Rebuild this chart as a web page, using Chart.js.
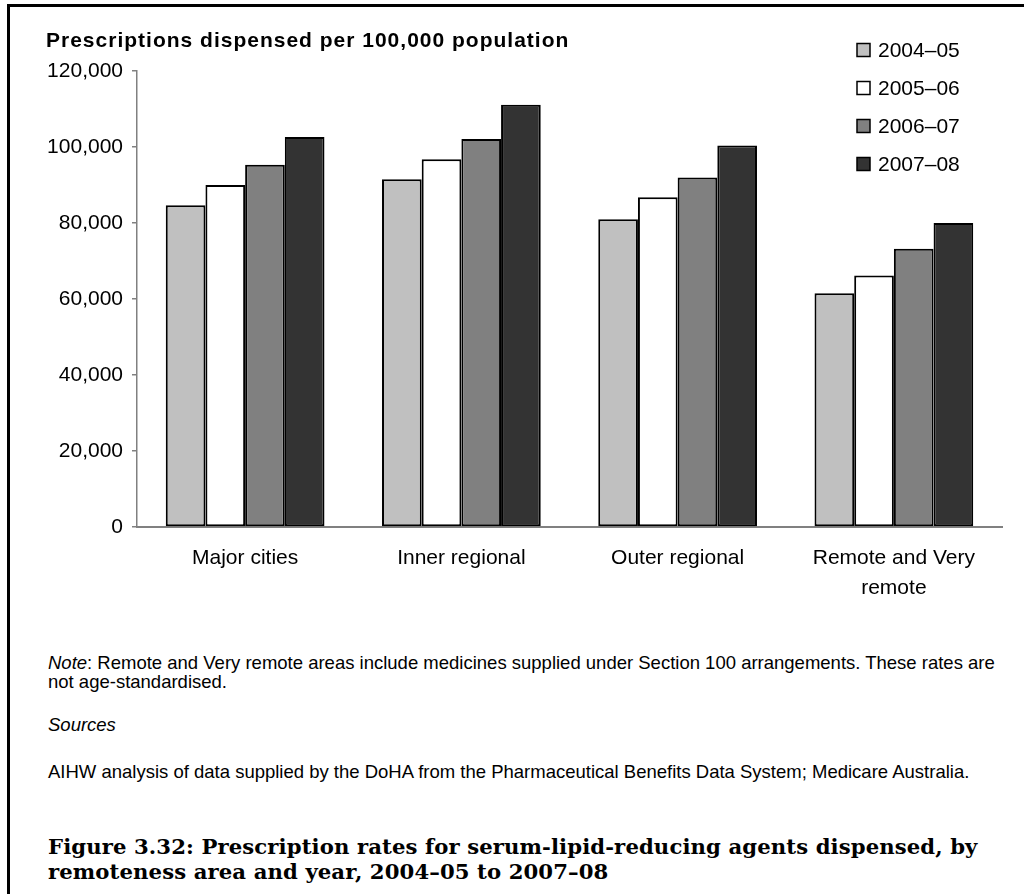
<!DOCTYPE html>
<html>
<head>
<meta charset="utf-8">
<script src="https://cdn.jsdelivr.net/npm/chart.js@4"></script>
<style>
  html, body { margin: 0; padding: 0; background: #fff; overflow: hidden; }
  body { width: 1024px; height: 894px; position: relative; font-family: "Liberation Sans", Arial, sans-serif; color: #000; }
  #frame { position: absolute; left: 7px; top: 4px; width: 1100px; height: 1000px; border: 3px solid #000; }
  #chart { position: absolute; left: 0; top: 0; }
  .ytitle { position: absolute; left: 46px; top: 28px; font-weight: bold; font-size: 21px; letter-spacing: 1px; line-height: 24px; white-space: nowrap; }
  .txt { position: absolute; left: 48px; font-size: 18.5px; line-height: 19px; white-space: nowrap; }
  .cap { position: absolute; left: 48px; top: 834px; font-family: "DejaVu Serif", serif; font-weight: bold; font-size: 21.2px; letter-spacing: 0.1px; line-height: 25px; white-space: nowrap; }
</style>
</head>
<body>
<div id="frame"></div>
<canvas id="chart" width="1024" height="640"></canvas>
<div class="ytitle">Prescriptions dispensed per 100,000 population</div>
<div class="txt" style="top:653px"><i>Note</i>: Remote and Very remote areas include medicines supplied under Section 100 arrangements. These rates are</div>
<div class="txt" style="top:672px">not age-standardised.</div>
<div class="txt" style="top:715px"><i>Sources</i></div>
<div class="txt" style="top:762px">AIHW analysis of data supplied by the DoHA from the Pharmaceutical Benefits Data System; Medicare Australia.</div>
<div class="cap">Figure 3.32: Prescription rates for serum-lipid-reducing agents dispensed, by<br>remoteness area and year, 2004–05 to 2007–08</div>

<script>
  // ---------------- data ----------------
  const categories = ["Major cities", "Inner regional", "Outer regional", ["Remote and Very", "remote"]];
  const years = ["2004–05", "2005–06", "2006–07", "2007–08"];
  const rates0405 = [84700, 91500, 81000, 61500];
  const rates0506 = [90000, 96800, 86800, 66200];
  const rates0607 = [95300, 102100, 92000, 73200];
  const rates0708 = [102600, 111100, 100400, 80000];
  const yTicks = [0, 20000, 40000, 60000, 80000, 100000, 120000];

  const fills = ["#c0c0c0", "#ffffff", "#808080", "#333333"];
  const FONT = "'Liberation Sans', Arial, sans-serif";

  // legend drawn over the plot, top right
  const boxLegend = {
    id: "boxLegend",
    afterDraw(chart) {
      const ctx = chart.ctx;
      ctx.save();
      ctx.font = "21px " + FONT;
      ctx.textBaseline = "middle";
      chart.data.datasets.forEach((ds, i) => {
        const y = 50 + i * 38;
        ctx.fillStyle = ds.backgroundColor;
        ctx.fillRect(857, y - 6.5, 13, 13);
        ctx.strokeStyle = "#000";
        ctx.lineWidth = 1.5;
        ctx.strokeRect(857, y - 6.5, 13, 13);
        ctx.fillStyle = "#000";
        ctx.fillText(ds.label, 878, y + 1);
      });
      ctx.restore();
    }
  };

  const series = [rates0405, rates0506, rates0607, rates0708];

  new Chart(document.getElementById("chart"), {
    type: "bar",
    data: {
      labels: categories,
      datasets: series.map((vals, i) => ({
        label: years[i],
        data: vals,
        backgroundColor: fills[i],
        borderColor: "#000",
        borderWidth: 2,
        borderSkipped: false,
        categoryPercentage: 0.734,
        barPercentage: 1.0
      }))
    },
    options: {
      responsive: false,
      animation: false,
      devicePixelRatio: 1,
      layout: { padding: { top: 71, right: 22, left: 0, bottom: 0 } },
      plugins: { legend: { display: false }, tooltip: { enabled: false }, title: { display: false } },
      scales: {
        x: {
          grid: { display: false, drawTicks: false },
          border: { color: "#808080", width: 2 },
          ticks: { color: "#000", font: { family: FONT, size: 21, lineHeight: 1.43 }, padding: 16, maxRotation: 0, autoSkip: false },
          afterFit(scale) { scale.height = 113; }
        },
        y: {
          min: 0, max: 120000,
          afterBuildTicks(scale) { scale.ticks = yTicks.map(v => ({ value: v })); },
          grid: { display: true, drawOnChartArea: false, drawTicks: true, tickLength: 5, color: "#808080", lineWidth: 1.5 },
          border: { color: "#808080", width: 1.5 },
          ticks: {
            color: "#000", font: { family: FONT, size: 21 }, padding: 9,
            callback: v => v.toLocaleString("en-US")
          },
          afterFit(scale) { scale.width = 137; }
        }
      }
    },
    plugins: [boxLegend]
  });
</script>
</body>
</html>
